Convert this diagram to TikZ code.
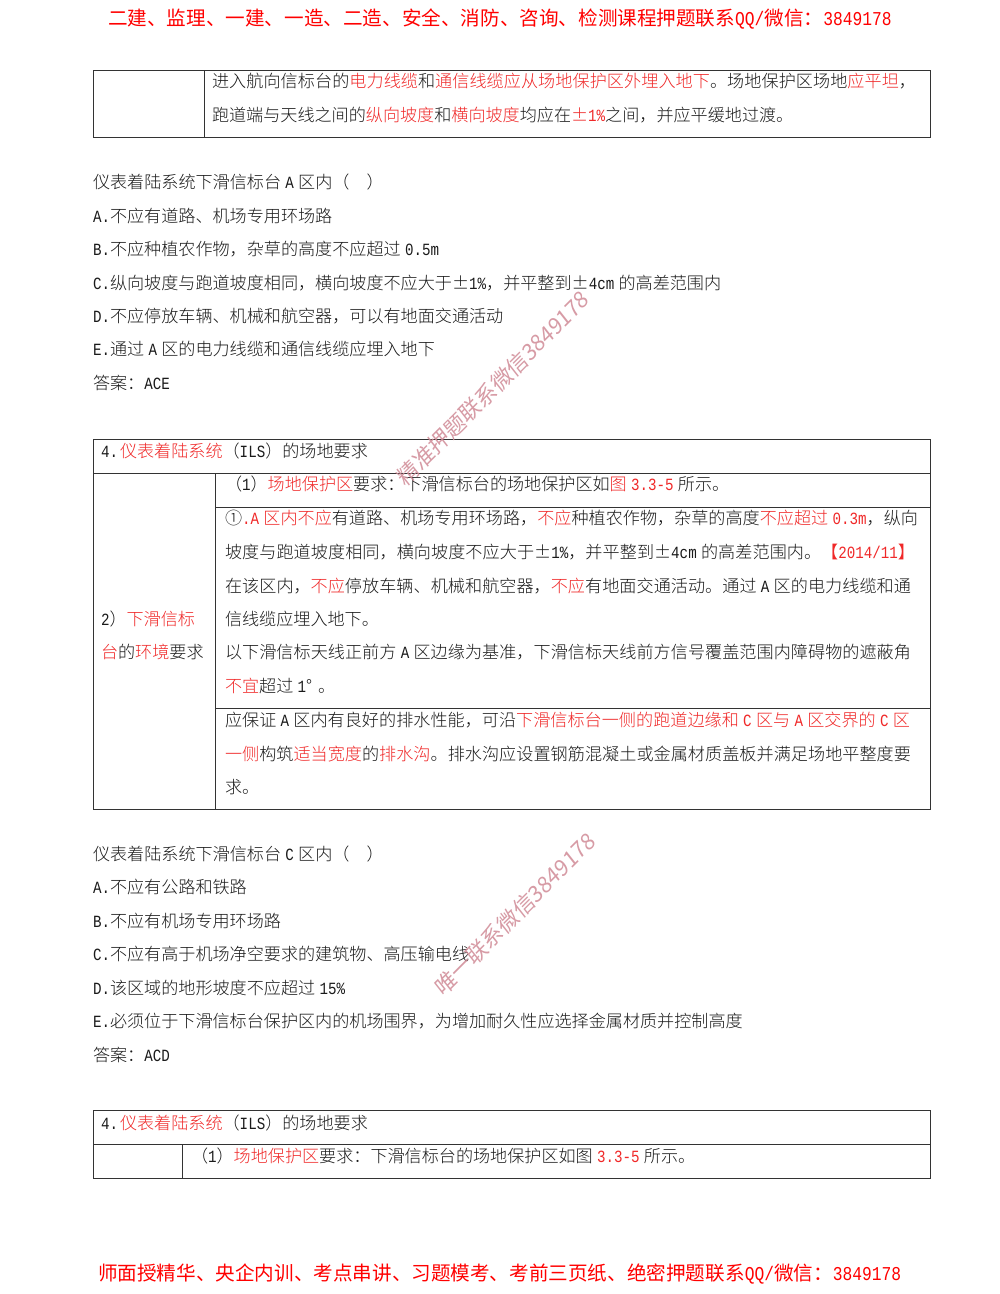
\documentclass[tikz,border=0pt]{standalone}
\usepackage{fontspec}
\setmainfont{Noto Sans CJK SC}[UprightFont=* Light]
\newfontfamily\cjkreg{Noto Sans CJK SC}
\newfontfamily\lat{Liberation Mono}[FakeStretch=0.83]
\definecolor{rd}{HTML}{F02828}
\definecolor{ink}{HTML}{1A1A1A}
\definecolor{rule}{HTML}{333333}
\definecolor{wm}{HTML}{D08A96}
\newcommand{\m}[1]{{\lat #1}}
\newcommand{\R}[1]{\textcolor{rd}{#1}}
\newcommand{\pmx}{\makebox[1em]{±}}
\newcommand{\s}{\hskip 0.25em minus 0.1em\relax}
\newcommand{\cm}{^^^^ff0c}
\newcommand{\cl}{^^^^ff1a}
\newcommand{\lp}{^^^^ff08}
\newcommand{\rp}{^^^^ff09}
\XeTeXlinebreaklocale "zh"
\XeTeXlinebreakskip=0pt plus 3pt minus 1pt
\newcommand{\jl}[2]{\vbox{\hsize=#1pt\parindent=0pt\parfillskip=0pt\tolerance=10000\hbadness=10000 #2}}
\tikzset{
  txt/.style={anchor=base west,inner sep=0pt,outer sep=0pt,text=ink,font=\fontsize{17.1}{20}\selectfont},
  banner/.style={anchor=base west,inner sep=0pt,outer sep=0pt,text=red,font=\cjkreg\fontsize{19.6}{22}\selectfont},
  mark1/.style={anchor=center,inner sep=0pt,text=wm,font=\cjkreg\fontsize{22}{24}\selectfont,rotate=45,opacity=0.85,xslant=0.12},
  grid/.style={draw=rule,line width=1pt}
}
\begin{document}
\begin{tikzpicture}[x=1pt,y=-1pt]
\useasboundingbox (0,0) rectangle (1000,1294);
\fill[white] (0,0) rectangle (1000,1294);
% tables
\draw[grid] (93,70) rectangle (930,137) (204,70) -- (204,137);
\draw[grid] (93,439) rectangle (930,809) (93,473) -- (930,473) (215,473) -- (215,809) (215,507) -- (930,507) (215,708) -- (930,708);
\draw[grid] (93,1110) rectangle (930,1178) (93,1144) -- (930,1144) (182,1144) -- (182,1178);
% banners
\node[banner] (top) at (108,25) {二建、监理、一建、一造、二造、安全、消防、咨询、检测课程押题联系\m{QQ/}微信\cl{}\m{3849178}};
\node[banner] (bot) at (98,1280) {师面授精华、央企内训、考点串讲、习题模考、考前三页纸、绝密押题联系\m{QQ/}微信\cl{}\m{3849178}};
% table 1
\node[txt] (a1) at (212,87) {\jl{704}{进入航向信标台的\R{电力线缆}和\R{通信线缆应从场地保护区外埋入地下}。场地保护区场地\R{应平坦}\cm{}}};
\node[txt] (a2) at (212,121) {跑道端与天线之间的\R{纵向坡度}和\R{横向坡度}均应在\R{\pmx\m{1\%}}之间\cm{}并应平缓地过渡。};
% question 1
\node[txt] (q1) at (93,188) {仪表着陆系统下滑信标台\s\m{A}\s 区内\lp{}\hspace{1em}\rp{}};
\node[txt] (q2) at (93,222) {\m{A.}不应有道路、机场专用环场路};
\node[txt] (q3) at (93,255) {\m{B.}不应种植农作物\cm{}杂草的高度不应超过\s\m{0.5m}};
\node[txt] (q4) at (93,289) {\m{C.}纵向坡度与跑道坡度相同\cm{}横向坡度不应大于\pmx\m{1\%}\cm{}并平整到\pmx\m{4cm}\s 的高差范围内};
\node[txt] (q5) at (93,322) {\m{D.}不应停放车辆、机械和航空器\cm{}可以有地面交通活动};
\node[txt] (q6) at (93,355) {\m{E.}通过\s\m{A}\s 区的电力线缆和通信线缆应埋入地下};
\node[txt] (q7) at (93,389) {答案\cl{}\m{ACE}};
% table 2
\node[txt] (b0) at (101,457) {\m{4.}\hspace{2pt}\R{仪表着陆系统}\lp{}\m{ILS}\rp{}的场地要求};
\node[txt] (b1) at (225,490) {\lp{}\m{1}\rp{}\R{场地保护区}要求\cl{}下滑信标台的场地保护区如\R{图\s\m{3.3-5}}\s 所示。};
\node[txt] (b2) at (225,524) {\jl{693}{①\R{\m{.A}\s 区内不应}有道路、机场专用环场路\cm{}\R{不应}种植农作物\cm{}杂草的高度\R{不应超过\s\m{0.3m}}\cm{}纵向}};
\node[txt] (b3) at (225,558) {\jl{690}{坡度与跑道坡度相同\cm{}横向坡度不应大于\pmx\m{1\%}\cm{}并平整到\pmx\m{4cm}\s 的高差范围内。\R{【\m{2014/11}】}}};
\node[txt] (b4) at (225,592) {\jl{686}{在该区内\cm{}\R{不应}停放车辆、机械和航空器\cm{}\R{不应}有地面交通活动。通过\s\m{A}\s 区的电力线缆和通}};
\node[txt] (b5) at (225,625) {信线缆应埋入地下。};
\node[txt] (b6) at (225,658) {\jl{686}{以下滑信标天线正前方\s\m{A}\s 区边缘为基准\cm{}下滑信标天线前方信号覆盖范围内障碍物的遮蔽角}};
\node[txt] (b7) at (225,692) {\R{不宜}超过\s\m{1}\makebox[0.7em][l]{°}。};
\node[txt] (b8) at (225,726) {\jl{685}{应保证\s\m{A}\s 区内有良好的排水性能\cm{}可沿\R{下滑信标台一侧的跑道边缘和\s\m{C}\s 区与\s\m{A}\s 区交界的\s\m{C}\s 区}}};
\node[txt] (b9) at (225,760) {\jl{686}{\R{一侧}构筑\R{适当宽度}的\R{排水沟}。排水沟应设置钢筋混凝土或金属材质盖板并满足场地平整度要}};
\node[txt] (b10) at (225,793) {求。};
\node[txt] (c1) at (101,625) {\m{2}\rp{}\R{下滑信标}};
\node[txt] (c2) at (101,658) {\R{台}的\R{环境}要求};
% question 2
\node[txt] (r1) at (93,860) {仪表着陆系统下滑信标台\s\m{C}\s 区内\lp{}\hspace{1em}\rp{}};
\node[txt] (r2) at (93,893) {\m{A.}不应有公路和铁路};
\node[txt] (r3) at (93,927) {\m{B.}不应有机场专用环场路};
\node[txt] (r4) at (93,960) {\m{C.}不应有高于机场净空要求的建筑物、高压输电线};
\node[txt] (r5) at (93,994) {\m{D.}该区域的地形坡度不应超过\s\m{15\%}};
\node[txt] (r6) at (93,1027) {\m{E.}必须位于下滑信标台保护区内的机场围界\cm{}为增加耐久性应选择金属材质并控制高度};
\node[txt] (r7) at (93,1061) {答案\cl{}\m{ACD}};
% table 3
\node[txt] (d0) at (101,1129) {\m{4.}\hspace{2pt}\R{仪表着陆系统}\lp{}\m{ILS}\rp{}的场地要求};
\node[txt] (d1) at (191,1162) {\lp{}\m{1}\rp{}\R{场地保护区}要求\cl{}下滑信标台的场地保护区如图\R{\s\m{3.3-5}}\s 所示。};
% watermarks
\node[mark1] (w1) at (493,388) {精准押题联系微信3849178};
\node[mark1] (w2) at (515,914) {唯一联系微信3849178};
\end{tikzpicture}
\end{document}
